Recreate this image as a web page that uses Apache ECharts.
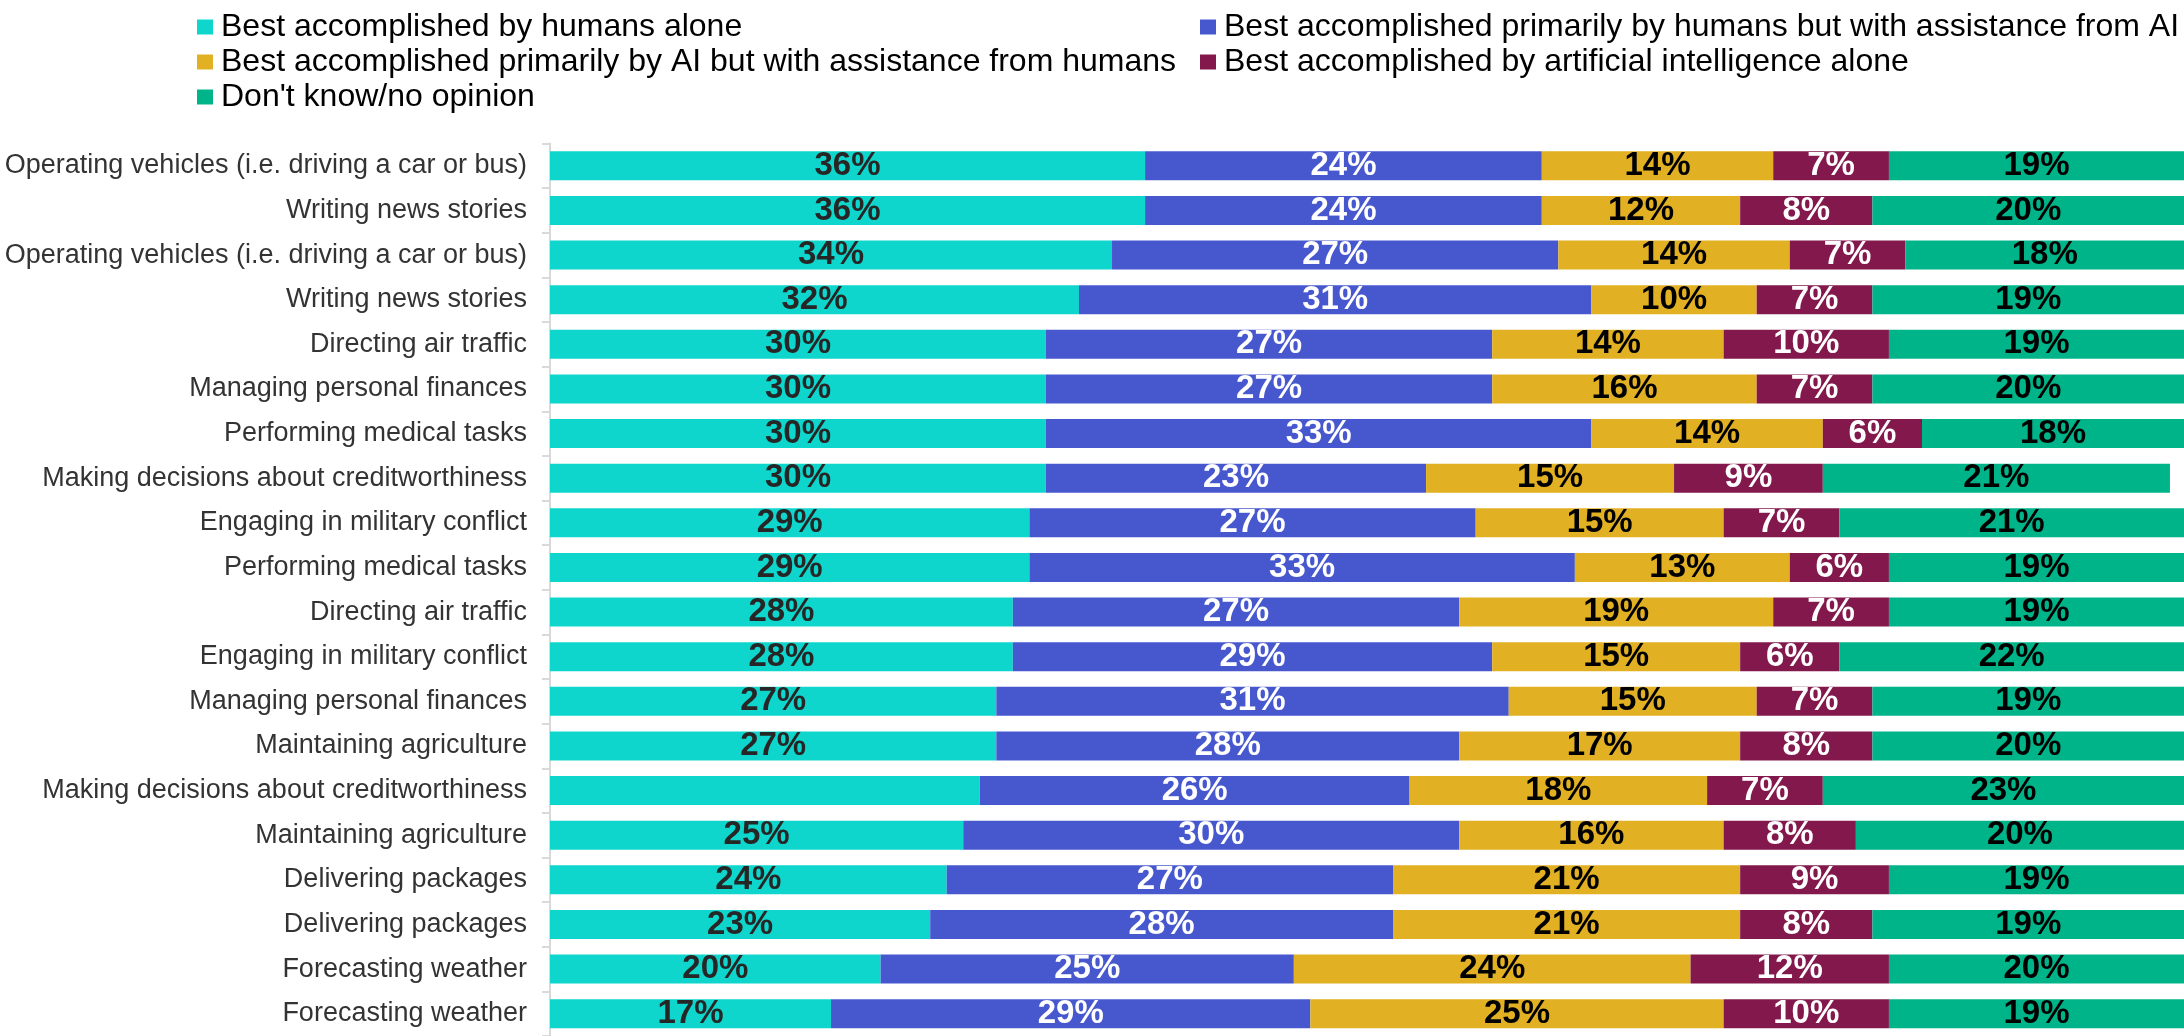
<!DOCTYPE html>
<html>
<head>
<meta charset="utf-8">
<script src="https://cdn.jsdelivr.net/npm/echarts@6/dist/echarts.min.js"></script>
<style>
html,body{margin:0;padding:0;background:#fff;}
#chart{width:2184px;height:1036px;}
</style>
</head>
<body>
<div id="chart"></div>
<script>
const categories = [
  "Operating vehicles (i.e. driving a car or bus)",
  "Writing news stories",
  "Operating vehicles (i.e. driving a car or bus)",
  "Writing news stories",
  "Directing air traffic",
  "Managing personal finances",
  "Performing medical tasks",
  "Making decisions about creditworthiness",
  "Engaging in military conflict",
  "Performing medical tasks",
  "Directing air traffic",
  "Engaging in military conflict",
  "Managing personal finances",
  "Maintaining agriculture",
  "Making decisions about creditworthiness",
  "Maintaining agriculture",
  "Delivering packages",
  "Delivering packages",
  "Forecasting weather",
  "Forecasting weather"
];
const seriesNames = [
  "Best accomplished by humans alone",
  "Best accomplished primarily by humans but with assistance from AI",
  "Best accomplished primarily by AI but with assistance from humans",
  "Best accomplished by artificial intelligence alone",
  "Don't know/no opinion"
];
const humansAlone   = [36,36,34,32,30,30,30,30,29,29,28,28,27,27,26,25,24,23,20,17];
const humansWithAI  = [24,24,27,31,27,27,33,23,27,33,27,29,31,28,26,30,27,28,25,29];
const aiWithHumans  = [14,12,14,10,14,16,14,15,15,13,19,15,15,17,18,16,21,21,24,25];
const aiAlone       = [7,8,7,7,10,7,6,9,7,6,7,6,7,8,7,8,9,8,12,10];
const dontKnow      = [19,20,18,19,19,20,18,21,21,19,19,22,19,20,23,20,19,19,20,19];
// rows whose first-segment label is not shown in the original
const hiddenLabelRows = [14];

const colors = ["#0fd6cc", "#4758cf", "#e2b123", "#82184c", "#00b48a"];
const labelColors = ["#262626", "#ffffff", "#000000", "#ffffff", "#000000"];
const FONT = "'Liberation Sans', Arial, sans-serif";

const values = [humansAlone, humansWithAI, aiWithHumans, aiAlone, dontKnow];

const series = values.map((arr, si) => ({
  name: seriesNames[si],
  type: 'bar',
  stack: 'total',
  barWidth: 29,
  itemStyle: { color: colors[si] },
  label: {
    show: true,
    position: 'inside',
    formatter: p => p.value + '%',
    color: labelColors[si],
    fontFamily: FONT,
    fontWeight: 'bold',
    fontSize: 33
  },
  emphasis: { disabled: true },
  data: arr.map((v, i) => (si === 0 && hiddenLabelRows.includes(i))
    ? { value: v, label: { show: false } } : v)
}));

const legendPos = [
  { left: 197, top: 11 },
  { left: 1200, top: 11 },
  { left: 197, top: 46 },
  { left: 1200, top: 46 },
  { left: 197, top: 81 }
];
const legend = seriesNames.map((n, i) => ({
  data: [n],
  left: legendPos[i].left,
  top: legendPos[i].top,
  padding: 0,
  itemWidth: 16,
  itemHeight: 15,
  icon: 'rect',
  selectedMode: false,
  textStyle: { fontFamily: FONT, fontSize: 32, color: '#000', padding: [0, 0, 0, 3] }
}));

const chart = echarts.init(document.getElementById('chart'));
chart.setOption({
  animation: false,
  color: colors,
  legend: legend,
  grid: { left: 550, top: 143.5, right: 0, height: 901 },
  xAxis: { type: 'value', min: 0, max: 98.85, show: false },
  yAxis: {
    type: 'category',
    inverse: true,
    data: categories,
    axisLine: { show: true, lineStyle: { color: '#d9d9d9', width: 2 } },
    axisTick: { show: true, length: 8, lineStyle: { color: '#d9d9d9', width: 2 } },
    axisLabel: { fontFamily: FONT, fontSize: 27, color: '#333', margin: 23, interval: 0 }
  },
  series: series
});
</script>
</body>
</html>
